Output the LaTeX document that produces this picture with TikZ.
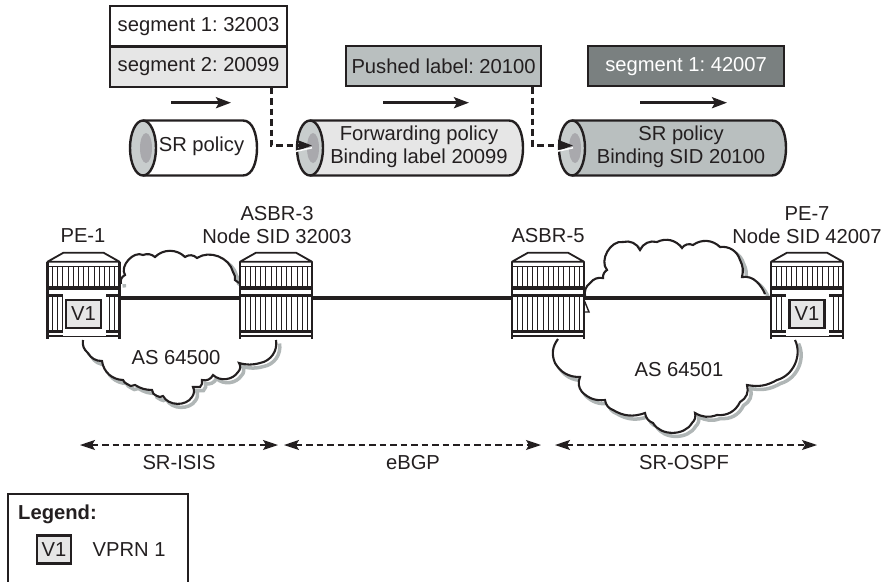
\documentclass[tikz,border=0pt]{standalone}
\usepackage{fontspec}
\setmainfont{Liberation Sans}
\usetikzlibrary{arrows.meta,calc}
\definecolor{ink}{HTML}{231F20}
\definecolor{pale}{HTML}{E6E6E6}
\definecolor{midg}{HTML}{B9BFBF}
\definecolor{darkg}{HTML}{7A8080}
\definecolor{rimg}{HTML}{C8CDCD}
\definecolor{coreg}{HTML}{A9A9AD}
\definecolor{shad}{HTML}{B0B6B6}
\tikzset{
  every node/.style={font=\fontsize{20.2}{23}\selectfont\frenchspacing,text=ink,inner sep=0pt},
  lbl/.style={align=center},
  labelbox/.style={draw=ink,line width=2.2pt,minimum height=40pt,align=center},
  tube/.style={minimum height=55pt},
  flow/.style={draw=ink,line width=2.6pt,-{Stealth[length=15pt,width=11pt,inset=3pt]}},
  jump/.style={draw=ink,line width=3pt,dash pattern=on 6.5pt off 4pt,-{Stealth[length=15pt,width=11pt,inset=3pt]}},
  span/.style={draw=ink,line width=1.2pt,dash pattern=on 6.5pt off 4pt,{Stealth[length=15pt,width=10pt,inset=3pt]}-{Stealth[length=15pt,width=10pt,inset=3pt]}},
  link/.style={draw=ink,line width=3.2pt},
  cloudline/.style={draw=ink,line width=2.1pt},
  cloudshadow/.style={draw=shad,line width=3.5pt},
  vbox/.style={draw=ink,line width=2.4pt,fill=pale,minimum width=35pt,minimum height=28pt},
}
% name, left x, with V1 (0/1)
\newcommand{\routerbox}[3]{%
  \begin{scope}[shift={(#2,252.7)}]
    \fill[white] (0,9)--(16,0)--(56,0)--(72,9)--(72,85)--(0,85)--cycle;
    \draw[ink,line width=1.8pt,line join=round] (0,9)--(16,0)--(56,0)--(72,9)--cycle;
    \foreach \q in {5,10.2,...,68}{
      \draw[ink,line width=.85pt] (\q,14)--(\q,33);
      \draw[ink,line width=.85pt] (\q,42)--(\q,77);
    }
    \draw[ink,line width=1.2pt] (0,14)--(72,14);
    \fill[ink] (0,33) rectangle (72,37);
    \draw[ink,line width=2.6pt] (0,43)--(72,43);
    \fill[ink] (0,77) rectangle (72,80.5);
    \draw[ink,line width=1.8pt] (0,83.5)--(72,83.5);
    \draw[ink,line width=2.1pt] (0,9)--(0,86) (72,9)--(72,86);
    \ifnum#3=1
      \fill[white] (15,40) rectangle (58,83);
      \node[vbox] (#1v) at (36,61) {V1};
    \fi
    \node[minimum width=72pt,minimum height=90.6pt] (#1) at (36,45.3) {};
  \end{scope}}
\def\cloudAtop{(121,284) to[bend left=40] (125,275) to[bend left=75] (143,255) to[bend left=30] (155,257) to[bend left=45] (185,257) to[bend left=40] (197,258) to[bend left=55] (233,272) to[bend left=20] (235,280) to[bend left=20] (239,283)}
\def\cloudAbot{(276,340) to[bend left=45] (260,363) to[bend left=15] (239,363) to[bend left=40] (238,372) to[bend left=50] (213,375) to[bend left=40] (202,380) to[bend left=30] (200,387) to[bend left=10] (193,387) to[bend left=30] (192,397) to[bend left=60] (163,396) to[bend left=35] (157,396) to[bend left=35] (152,390) to[bend left=15] (135,385) to[bend left=40] (127,384) to[bend left=20] (123,380) to[bend left=40] (102,361) to[bend left=30] (88,353) to[bend left=30] (83,340)}
\def\cloudBtop{(585,296) to[bend left=30] (590,283) to[bend left=30] (603,278) to[bend left=30] (607,270) to[bend left=70] (623,242) to[bend left=40] (640,250) to[bend left=40] (657,242) to[bend left=40] (682,248) to[bend left=40] (693,245) to[bend left=40] (720,247) to[bend left=40] (740,260) to[bend left=20] (742,277) to[bend left=25] (757,282) to[bend left=10] (765,294)}
\def\cloudBbot{(795,340) to[bend left=50] (777,380) to[bend left=20] (747,385) to[bend left=40] (740,402) to[bend left=35] (717,415) to[bend left=25] (695,413) to[bend left=30] (692,423) to[bend left=60] (653,423) to[bend left=30] (645,413) to[bend left=25] (613,410) to[bend left=30] (605,400) to[bend left=25] (582,392) to[bend left=30] (580,377) to[bend left=30] (555,363) to[bend left=30] (558,339)}
% name, left x, right x, fill
\newcommand{\tubeshape}[4]{%
  \fill[#4] (#2+13,120.5) -- (#3-14,120.5) .. controls (#3-4,120.5) and (#3,135) .. (#3,148) .. controls (#3,161) and (#3-4,175.5) .. (#3-14,175.5) -- (#2+13,175.5) -- cycle;
  \draw[ink,line width=2.4pt] (#2+13,120.5) -- (#3-14,120.5) .. controls (#3-4,120.5) and (#3,135) .. (#3,148) .. controls (#3,161) and (#3-4,175.5) .. (#3-14,175.5) -- (#2+13,175.5);
  \draw[ink,line width=2.4pt,fill=rimg] (#2+13,148) ellipse [x radius=13,y radius=27.5];
  \fill[coreg] (#2+16,148) ellipse [x radius=6,y radius=15];
}
\begin{document}
\begin{tikzpicture}[x=1pt,y=-1pt]
\useasboundingbox (0,0) rectangle (882,581);
% labels on top
\node[labelbox,minimum width=177pt,anchor=north west] (seg1) at (109,5) {segment 1: 32003};
\node[labelbox,fill=pale,minimum width=177pt,anchor=north west] (seg2) at (109,45.5) {segment 2: 20099};
\node[labelbox,fill=midg,minimum width=195pt,anchor=north west] (push) at (345,45) {Pushed label: 20100};
\node[labelbox,fill=darkg,minimum width=196pt,anchor=north west,text=white] (seg3) at (587,45) {segment 1: 42007};
% flow arrows
\coordinate (fa1) at (171,102.7); \coordinate (fb1) at (231,102.7);
\coordinate (fa2) at (383,102.7); \coordinate (fb2) at (469,102.7);
\coordinate (fa3) at (640,102.7); \coordinate (fb3) at (727,102.7);
\draw[flow] (fa1)--(fb1);
\draw[flow] (fa2)--(fb2);
\draw[flow] (fa3)--(fb3);
% tubes
\tubeshape{t1}{130}{257}{white}
\tubeshape{t2}{297}{523}{pale}
\tubeshape{t3}{559}{786}{midg}
\node[tube] (tone) at (201.5,146) {SR policy};
\node[tube,lbl] (ttwo) at (419,146.5) {Forwarding policy\\Binding label 20099};
\node[tube,lbl] (tthree) at (681,146.5) {SR policy\\Binding SID 20100};
% dashed connectors
\coordinate (j1) at (271,145.5); \coordinate (e1) at (312,145.5);
\coordinate (j2) at (532.7,145.5); \coordinate (e2) at (573,145.5);
\draw[jump] (seg2.south -| j1) -- (j1) -- (e1);
\draw[jump] (push.south -| j2) -- (j2) -- (e2);
\draw[white,line width=1.5pt] (295,151.5)--(312,147.8);
\draw[white,line width=1.5pt] (556,151.5)--(573,147.8);
% clouds
\begin{scope}[shift={(3.5,3.5)}]
\draw[cloudshadow] \cloudAtop;
\draw[cloudshadow] \cloudAbot;
\draw[cloudshadow] \cloudBtop;
\draw[cloudshadow] \cloudBbot;
\end{scope}
\fill[white] \cloudAtop -- cycle;
\fill[white] \cloudAbot -- cycle;
\fill[white] \cloudBtop -- cycle;
\fill[white] \cloudBbot -- cycle;
\draw[cloudline] \cloudAtop;
\draw[cloudline] \cloudAbot;
\draw[cloudline] \cloudBtop;
\draw[cloudline] \cloudBbot;
% routers
\routerbox{pe1}{47.5}{1}
\routerbox{asbrthree}{240}{0}
\routerbox{asbrfive}{512}{0}
\routerbox{pe7}{771}{1}
\draw[cloudline,line width=1.4pt] (584.5,301) -- (589,312) -- (584.5,312);
\draw[link] (pe1.east) -- (asbrthree.west);
\draw[link] (asbrthree.east) -- (asbrfive.west);
\draw[link] (asbrfive.east) -- (pe7.west);
% router labels
\node (lpe1) at (83,236) {PE-1};
\node[lbl] (lasbr3) at (277,225.5) {ASBR-3\\Node SID 32003};
\node (lasbr5) at (548,236) {ASBR-5};
\node[lbl] (lpe7) at (807,225.5) {PE-7\\Node SID 42007};
\node (as1) at (176,358) {AS 64500};
\node (as2) at (679,370) {AS 64501};
% spans
\coordinate (s1a) at (80,445); \coordinate (s1b) at (278,445);
\coordinate (s2a) at (284,445); \coordinate (s2b) at (541,445);
\coordinate (s3a) at (555,445); \coordinate (s3b) at (817,445);
\draw[span] (s1a)--(s1b);
\draw[span] (s2a)--(s2b);
\draw[span] (s3a)--(s3b);
\node (lisis) at (179,463) {SR-ISIS};
\node (lbgp) at (413,463) {eBGP};
\node (lospf) at (684,463) {SR-OSPF};
% legend
\draw[ink,line width=1.4pt] (8,585) -- (8,494) -- (188,494) -- (188,585);
\node[anchor=west,font=\fontsize{20.2}{23}\bfseries\selectfont] (leg) at (18,514.5) {Legend:};
\node[vbox,minimum width=34pt] (legv) at (54,549.5) {V1};
\node[anchor=west] (legt) at (92.5,550) {VPRN 1};
\end{tikzpicture}
\end{document}
